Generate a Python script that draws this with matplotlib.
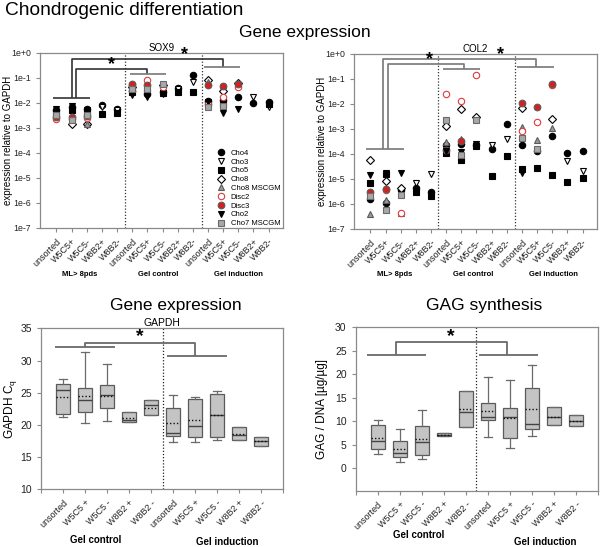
import numpy as np
import matplotlib
matplotlib.use('Agg')
import matplotlib.pyplot as plt
from matplotlib.ticker import FixedLocator, FuncFormatter

plt.rcParams['font.family'] = ['Liberation Sans', 'DejaVu Sans']

nan = np.nan

# ---- scatter data (expression relative to GAPDH) ----
groups = ['ML> 8pds', 'Gel control', 'Gel induction']
subsets = ['unsorted', 'W5C5+', 'W5C5-', 'W8B2+', 'W8B2-']
xlabels_top = subsets * 3

series = ['Cho4', 'Cho3', 'Cho5', 'Cho8', 'Cho8 MSCGM', 'Disc2', 'Disc3', 'Cho2', 'Cho7 MSCGM']

sox9_cho4 = [5e-3, 7e-3, 6e-3, 8.5e-3, 5.5e-3, 3e-2, 2.2e-2, 2.8e-2, 3.8e-2, 0.13, 1.2e-2, 1.3e-2, 1.8e-2, 1e-2, 1.1e-2]
sox9_cho3 = [nan, nan, nan, 7e-3, 5e-3, nan, nan, nan, 3.5e-2, 7e-2, nan, 3.2e-2, nan, 1.7e-2, 6.8e-3]
sox9_cho5 = [4.5e-3, 5e-3, 4.5e-3, 3.6e-3, 4e-3, 2.8e-2, 2.7e-2, 2.5e-2, 2.8e-2, 2.8e-2, 1e-2, 1e-2, nan, nan, 9e-3]
sox9_cho8 = [nan, 1.4e-3, 1.5e-3, nan, nan, 4.5e-2, nan, 5e-2, nan, nan, 8e-2, 3e-2, 6.5e-2, nan, nan]
sox9_cho8m = [3.5e-3, nan, 1.4e-3, nan, nan, 4e-2, nan, 6e-2, nan, nan, 7e-2, nan, 6e-2, nan, nan]
sox9_disc2 = [2.2e-3, 2.2e-3, 2.5e-3, nan, nan, 5e-2, 8e-2, 4.5e-2, nan, nan, 9e-3, 1.8e-2, 4.2e-2, nan, nan]
sox9_disc3 = [2.8e-3, 2.8e-3, 3e-3, nan, nan, 5.5e-2, 5e-2, nan, nan, nan, 5e-2, 4.7e-2, 5.5e-2, nan, nan]
sox9_cho2 = [6e-3, 7.5e-3, 5e-3, nan, nan, 2e-2, 1.8e-2, 2.3e-2, nan, nan, 1.1e-2, 3.8e-3, 5.5e-3, nan, nan]
sox9_cho7 = [3.2e-3, 2e-3, 3.2e-3, nan, nan, 3.6e-2, 3.5e-2, 5.5e-2, nan, nan, 7e-3, 7.5e-3, nan, nan, nan]

col2_cho4 = [1.6e-6, 1.1e-6, 3.5e-6, 4.5e-6, 3e-6, 2.3e-4, 2.6e-4, 2.3e-4, 1.6e-4, 1.6e-3, 2.2e-4, 1.3e-4, 5e-4, 1.1e-4, 1.35e-4]
col2_cho3 = [nan, nan, nan, 7e-6, 1.6e-5, nan, nan, nan, 2.2e-4, 4e-4, nan, nan, nan, 5e-5, 2e-5]
col2_cho5 = [7e-6, 1.6e-5, nan, 3e-6, 2e-6, 1.1e-4, 5.5e-5, 2e-4, 1.3e-5, 8e-5, 2.5e-5, 2.7e-5, 1.5e-5, 7.5e-6, 1.1e-5]
col2_cho8 = [6e-5, 8e-6, 4.5e-6, nan, nan, 1.3e-3, 6e-3, 3e-3, nan, nan, 7e-3, nan, 2.6e-3, nan, nan]
col2_cho8m = [4e-7, 1.5e-6, 4.5e-7, nan, nan, 3e-4, 4e-4, nan, nan, nan, 1.2e-3, 3.6e-4, 1.1e-3, nan, nan]
col2_disc2 = [nan, 3.5e-6, 4.5e-7, nan, nan, 2.5e-2, 1.3e-2, 0.15, nan, nan, 8e-4, 1.9e-3, 5.5e-2, nan, nan]
col2_disc3 = [3e-6, 3.8e-6, nan, nan, nan, 1.5e-4, 3.4e-4, nan, nan, nan, 1.1e-2, 7.5e-3, 6.5e-2, nan, nan]
col2_cho2 = [1.4e-5, 1.7e-5, 1.8e-5, nan, nan, 1.3e-4, 1.2e-4, 2.5e-4, nan, nan, 1.8e-5, nan, nan, nan, nan]
col2_cho7 = [2e-6, 6e-7, 2.2e-6, nan, nan, 2.2e-3, 9e-5, 2.2e-3, nan, nan, 4.4e-4, 1.6e-4, nan, nan, nan]

# ---- box plot data ----
box_labels = ['unsorted', 'W5C5 +', 'W5C5 -', 'W8B2 +', 'W8B2 -'] * 2

gapdh_whislo = [21.2, 20.25, 20.6, 20.4, 21.6, 17.3, 17.35, 17.65, 17.65, 16.8]
gapdh_q1 = [21.75, 22.0, 22.6, 20.4, 21.6, 18.3, 18.1, 18.2, 17.65, 16.8]
gapdh_med = [25.4, 23.9, 24.7, 20.7, 23.1, 18.7, 19.9, 21.5, 18.45, 17.5]
gapdh_mean = [24.4, 24.5, 24.5, 21.1, 22.7, 20.35, 20.8, 21.5, 18.65, 17.5]
gapdh_q3 = [26.3, 25.8, 26.15, 22.0, 23.9, 22.6, 24.0, 24.8, 19.7, 18.1]
gapdh_whishi = [27.2, 31.3, 29.5, 22.0, 23.9, 24.6, 24.4, 25.3, 19.7, 18.1]

gag_whislo = [3.0, 1.3, 2.0, 6.8, 8.8, 6.75, 4.25, 6.8, 9.2, 9.1]
gag_q1 = [4.1, 2.35, 2.9, 6.8, 8.8, 10.2, 6.4, 8.3, 9.2, 9.1]
gag_med = [5.8, 3.2, 5.55, 7.1, 11.95, 11.0, 11.0, 9.4, 11.0, 10.15]
gag_mean = [6.4, 4.1, 6.25, 7.1, 12.6, 12.3, 10.6, 12.6, 11.0, 10.15]
gag_q3 = [9.2, 5.8, 9.0, 7.45, 16.55, 14.0, 12.8, 17.0, 13.1, 11.3]
gag_whishi = [10.3, 8.3, 12.4, 7.45, 16.55, 19.4, 18.8, 22.1, 13.1, 11.3]

# marker styles per series: marker, face, edge, size
styles = {
    'Cho4': ('o', 'black', 'black', 4.6),
    'Cho3': ('v', 'white', 'black', 4.8),
    'Cho5': ('s', 'black', 'black', 4.2),
    'Cho8': ('D', 'white', 'black', 3.8),
    'Cho8 MSCGM': ('^', '#9a9a9a', '#5a5a5a', 4.8),
    'Disc2': ('o', 'white', '#e03a3a', 4.6),
    'Disc3': ('o', '#d62020', '#5a5a5a', 4.8),
    'Cho2': ('v', 'black', 'black', 4.8),
    'Cho7 MSCGM': ('s', '#a8a8a8', '#6a6a6a', 4.4),
}

SPINE = '#8a8a8a'

fig = plt.figure(figsize=(6, 5.47), dpi=100)


def style_axes(ax):
    for s in ax.spines.values():
        s.set_color(SPINE)
        s.set_linewidth(0.9)
    ax.tick_params(colors=SPINE, labelcolor='#222222', length=3, width=0.8)
    ax.tick_params(which='minor', length=0)


def scatter_panel(rect, data, title, vlines, brackets, stars, group_x):
    ax = fig.add_axes(rect)
    x = np.arange(15)
    order = [0, 1, 2, 3, 4, 8, 7, 5, 6]
    handles = {}
    for i in order:
        name = series[i]
        m, fc, ec, ms = styles[name]
        h, = ax.plot(x, data[i], linestyle='none', marker=m, markerfacecolor=fc,
                     markeredgecolor=ec, markersize=ms, markeredgewidth=0.8,
                     label=name, zorder=3 + i * 0.01, clip_on=False)
        handles[name] = h
    ax.set_yscale('log')
    ax.set_ylim(1e-7, 1)
    ax.set_xlim(-1.08, 14.95)
    ax.yaxis.set_major_locator(FixedLocator([10.0 ** k for k in range(-7, 1)]))
    ax.yaxis.set_major_formatter(FuncFormatter(lambda v, p: '1e%+d' % round(np.log10(v))))
    ax.yaxis.set_minor_locator(FixedLocator([]))
    ax.set_xticks(x)
    ax.set_xticklabels(xlabels_top, rotation=45, ha='right', rotation_mode='anchor', fontsize=6.5)
    ax.tick_params(axis='y', labelsize=6.3)
    style_axes(ax)
    for v in vlines:
        ax.axvline(v, color='#333333', linestyle=(0, (1, 1.5)), linewidth=0.9, zorder=1)
    ax.set_ylabel('expression relative to GAPDH', fontsize=7)
    ax.yaxis.set_label_coords(-0.112, 0.5)
    ax.set_title(title, fontsize=7, pad=1.5)
    for xs, ys, c in brackets:
        ax.plot(xs, ys, color=c, linewidth=1.2, solid_capstyle='butt', clip_on=False, zorder=2)
    for sx, sy in stars:
        ax.text(sx, sy, '*', fontsize=13, fontweight='bold', ha='center', va='center')
    for gx, g in zip(group_x, groups):
        fig.text(gx, 0.499, g, fontsize=5.5, fontweight='bold', ha='center', va='center')
    return ax, handles


sox9 = [sox9_cho4, sox9_cho3, sox9_cho5, sox9_cho8, sox9_cho8m, sox9_disc2, sox9_disc3, sox9_cho2, sox9_cho7]
col2 = [col2_cho4, col2_cho3, col2_cho5, col2_cho8, col2_cho8m, col2_disc2, col2_disc3, col2_cho2, col2_cho7]

sox_br = [
    ([-0.22, 2.25], [0.0154, 0.0154], '#333333'),
    ([1.04, 1.04, 11.0, 11.0], [0.0154, 0.56, 0.56, 0.27], '#333333'),
    ([1.32, 1.32, 6.0, 6.0], [0.0154, 0.23, 0.23, 0.145], '#333333'),
    ([4.85, 7.2], [0.145, 0.145], '#777777'),
    ([9.74, 12.12], [0.27, 0.27], '#777777'),
]
ax1, hd = scatter_panel([0.0667, 0.5832, 0.405, 0.32], sox9, 'SOX9', [4.55, 9.6], sox_br,
                        [(3.64, 0.33), (8.47, 0.85)], [0.133, 0.263, 0.397])
ax1.legend([hd[s] for s in series], series, loc='upper left', bbox_to_anchor=(0.715, 0.47),
           frameon=False, fontsize=5.5, handlelength=1.0, handletextpad=0.7,
           labelspacing=0.19, borderpad=0)

col_br = [
    ([-0.26, 2.2], [1.6e-4, 1.6e-4], '#777777'),
    ([0.83, 0.83, 10.9, 10.9], [1.6e-4, 0.63, 0.63, 0.3], '#777777'),
    ([1.16, 1.16, 6.2, 6.2], [1.6e-4, 0.41, 0.41, 0.26], '#777777'),
    ([4.78, 7.2], [0.26, 0.26], '#777777'),
    ([9.7, 12.1], [0.3, 0.3], '#777777'),
]
ax2, _ = scatter_panel([0.59, 0.5814, 0.405, 0.32], col2, 'COL2', [4.45, 9.55], col_br,
                       [(3.9, 0.6), (8.6, 0.93)], [0.658, 0.788, 0.922])


def box_panel(rect, whislo, q1, med, mean, q3, whishi, ylim, yticks, ylabel, lab_x, title,
              vline, brackets, star, glabels):
    ax = fig.add_axes(rect)
    stats = []
    for i in range(len(med)):
        stats.append(dict(whislo=whislo[i], q1=q1[i], med=med[i], mean=mean[i],
                          q3=q3[i], whishi=whishi[i], fliers=[]))
    ax.bxp(stats, positions=np.arange(1, 11), widths=0.62, patch_artist=True,
           showmeans=True, meanline=True, capwidths=0.36,
           boxprops=dict(facecolor='#c4c4c4', edgecolor='#5a5a5a', linewidth=0.9),
           medianprops=dict(color='#444444', linewidth=1.0),
           meanprops=dict(color='#111111', linestyle=(0, (1, 1.5)), linewidth=1.0),
           whiskerprops=dict(color='#6a6a6a', linewidth=0.9),
           capprops=dict(color='#6a6a6a', linewidth=0.9))
    ax.set_xlim(0, 11)
    ax.set_ylim(*ylim)
    ax.set_yticks(yticks)
    ax.set_xticks(np.arange(0, 12))
    ax.set_xticklabels([''] + box_labels + [''], rotation=45, ha='right',
                       rotation_mode='anchor', fontsize=6.5)
    ax.tick_params(axis='y', labelsize=7.5)
    style_axes(ax)
    ax.axvline(vline, color='#222222', linestyle=(0, (1, 1.5)), linewidth=0.9, zorder=1)
    ax.set_ylabel(ylabel, fontsize=8.5)
    ax.yaxis.set_label_coords(lab_x, 0.5)
    if title:
        ax.set_title(title, fontsize=7.5, pad=2)
    for xs, ys in brackets:
        ax.plot(xs, ys, color='#6a6a6a', linewidth=1.3, solid_capstyle='butt', clip_on=False)
    ax.text(star[0], star[1], '*', fontsize=14, fontweight='bold', ha='center', va='center')
    for gx, gy, g in glabels:
        fig.text(gx, gy, g, fontsize=7, fontweight='bold', ha='center', va='center')
    return ax


box_panel([0.0683, 0.1054, 0.4033, 0.2943], gapdh_whislo, gapdh_q1, gapdh_med, gapdh_mean,
          gapdh_q3, gapdh_whishi, (10, 35), [10, 15, 20, 25, 30, 35],
          'GAPDH C$_\\mathregular{q}$', -0.09, 'GAPDH', 5.54,
          [([0.66, 3.35], [32.1, 32.1]),
           ([2.0, 2.0, 7.0, 7.0], [32.1, 32.75, 32.75, 30.75]),
           ([5.74, 8.44], [30.75, 30.75])],
          (4.49, 33.7),
          [(0.16, 0.013, 'Gel control'), (0.378, 0.010, 'Gel induction')])

box_panel([0.5928, 0.1029, 0.4038, 0.2984], gag_whislo, gag_q1, gag_med, gag_mean,
          gag_q3, gag_whishi, (-4.8, 30), [0, 5, 10, 15, 20, 25, 30],
          'GAG / DNA [µg/µg]', -0.115, None, 5.48,
          [([0.5, 3.2], [24.1, 24.1]),
           ([1.83, 1.83, 6.87, 6.87], [24.1, 26.8, 26.8, 24.1]),
           ([5.59, 8.28], [24.1, 24.1])],
          (4.3, 28.0),
          [(0.697, 0.022, 'Gel control'), (0.908, 0.010, 'Gel induction')])

fig.text(0.008, 0.98, 'Chondrogenic differentiation', fontsize=13.8, ha='left', va='center')
fig.text(0.508, 0.94, 'Gene expression', fontsize=12.5, ha='center', va='center')
fig.text(0.293, 0.442, 'Gene expression', fontsize=12.5, ha='center', va='center')
fig.text(0.807, 0.442, 'GAG synthesis', fontsize=12.5, ha='center', va='center')

fig.savefig('out.png', dpi=100)
